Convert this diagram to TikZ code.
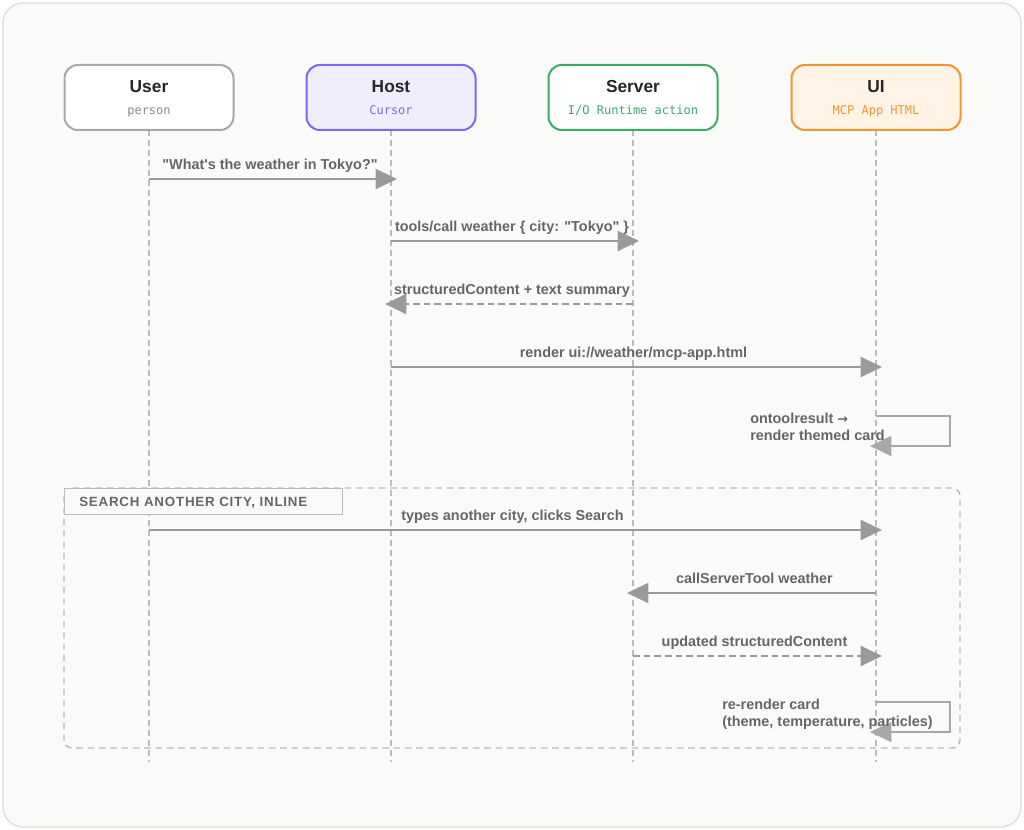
\documentclass[tikz,border=0pt]{standalone}
\usepackage{fontspec}
\setmainfont{Liberation Sans}[Ligatures=TeXReset]
\setmonofont{DejaVu Sans Mono}
\newfontfamily\arrowfont{DejaVu Sans}
\usetikzlibrary{arrows.meta}
\definecolor{bgpanel}{HTML}{FAFAF8}
\definecolor{panelline}{HTML}{DDDDDA}
\definecolor{lifegray}{HTML}{BBBBBB}
\definecolor{arrowgray}{HTML}{9A9A9A}
\definecolor{labelgray}{HTML}{666666}
\definecolor{titlegray}{HTML}{262626}
\definecolor{userline}{HTML}{A8A8A8}
\definecolor{usersub}{HTML}{8A8A8A}
\definecolor{hostline}{HTML}{7B68EE}
\definecolor{hostfill}{HTML}{F0EEFD}
\definecolor{serverline}{HTML}{3DAA66}
\definecolor{uiline}{HTML}{F0962E}
\definecolor{uifill}{HTML}{FFF3E5}
\begin{document}
\begin{tikzpicture}[x=0.75pt,y=-0.75pt,
  headbox/.style={draw, line width=1.5pt, rounded corners=10pt, minimum width=126.75pt, minimum height=48.75pt, inner sep=0pt},
  headtitle/.style={font=\fontsize{13}{15}\selectfont\bfseries, text=titlegray, anchor=base, inner sep=0pt},
  headsub/.style={font=\ttfamily\fontsize{9}{11}\selectfont, anchor=base, inner sep=0pt},
  lifeline/.style={draw=lifegray, line width=0.9pt, dash pattern=on 4.5pt off 3pt},
  msg/.style={draw=arrowgray, line width=1.5pt, -{Triangle[length=16pt,width=15pt]}, shorten >=-4.5pt},
  retmsg/.style={msg, dash pattern=on 5pt off 3pt},
  selfmsg/.style={draw=userline, line width=1.3pt, -{Triangle[length=16pt,width=15pt]}, shorten >=-4.5pt},
  lbl/.style={font=\fontsize{10.8}{13}\selectfont\bfseries, text=labelgray, anchor=base, inner sep=0pt, yshift=7pt},
  selflbl/.style={font=\fontsize{10.8}{12.75}\selectfont\bfseries, text=labelgray, anchor=base west, inner sep=0pt, align=left}
]
\useasboundingbox (0,0) rectangle (1024,830);
\fill[white] (0,0) rectangle (1024,830);
\draw[panelline, fill=bgpanel, line width=1pt, rounded corners=15pt] (3,3) rectangle (1021,827);

% group frame
\draw[lifegray, line width=1.1pt, dash pattern=on 5pt off 3.5pt, rounded corners=6pt] (64,488) rectangle (960,748);

% lifelines
\foreach \n/\x in {user/149,host/391,server/633,ui/876}{
  \coordinate (\n top) at (\x,130);
  \coordinate (\n bot) at (\x,762);
  \draw[lifeline] (\n top) -- (\n bot);
}

% group label
\node[draw=lifegray, line width=1.1pt, fill=bgpanel, minimum width=208.5pt, minimum height=19.5pt, anchor=north west, inner sep=0pt] (grp) at (64,488) {};
\node[font=\fontsize{10}{12}\selectfont\bfseries\addfontfeatures{LetterSpace=6}, text=labelgray, anchor=base west, inner sep=0pt] (grptxt) at (79,506) {SEARCH ANOTHER CITY, INLINE};

% headers
\node[headbox, draw=userline, fill=white] (userbox) at (149,97.5) {};
\node[headbox, draw=hostline, fill=hostfill] (hostbox) at (391,97.5) {};
\node[headbox, draw=serverline, fill=white] (serverbox) at (633,97.5) {};
\node[headbox, draw=uiline, fill=uifill] (uibox) at (876,97.5) {};
\node[headtitle] (usert) at (149,93) {User};
\node[headtitle] (hostt) at (391,93) {Host};
\node[headtitle] (servert) at (633,93) {Server};
\node[headtitle] (uit) at (876,93) {UI};
\node[headsub, text=usersub] (users) at (149,114.5) {person};
\node[headsub, text=hostline] (hosts) at (391,114.5) {Cursor};
\node[headsub, text=serverline] (servers) at (633,114.5) {I/O Runtime action};
\node[headsub, text=uiline] (uis) at (876,114.5) {MCP App HTML};

% message anchor points
\coordinate (u1) at (149,179); \coordinate (h1) at (391,179);
\coordinate (h2) at (391,241); \coordinate (s2) at (633,241);
\coordinate (s3) at (633,304); \coordinate (h3) at (391,304);
\coordinate (h4) at (391,367); \coordinate (ui4) at (876,367);
\coordinate (ui5a) at (876,416); \coordinate (ui5b) at (876,446);
\coordinate (u6) at (149,530); \coordinate (ui6) at (876,530);
\coordinate (ui7) at (876,593); \coordinate (s7) at (633,593);
\coordinate (s8) at (633,656); \coordinate (ui8) at (876,656);
\coordinate (ui9a) at (876,702); \coordinate (ui9b) at (876,732);

\draw[msg] (u1) -- (h1) node[lbl, midway] {"What's the weather in Tokyo?"};
\draw[msg] (h2) -- (s2) node[lbl, midway] {tools/call weather \{ city: "Tokyo" \}};
\draw[retmsg] (s3) -- (h3) node[lbl, midway] {structuredContent + text summary};
\draw[msg] (h4) -- (ui4) node[lbl, midway] {render ui://weather/mcp-app.html};
\draw[selfmsg] (ui5a) -- ++(74,0) |- (ui5b);
\node[selflbl] (l5) at (750,440) {ontoolresult {\arrowfont\fontsize{9.5}{12}\selectfont →}\\render themed card};

\draw[msg] (u6) -- (ui6) node[lbl, midway] {types another city, clicks Search};
\draw[msg] (ui7) -- (s7) node[lbl, midway] {callServerTool weather};
\draw[retmsg] (s8) -- (ui8) node[lbl, midway] {updated structuredContent};
\draw[selfmsg] (ui9a) -- ++(74,0) |- (ui9b);
\node[selflbl] (l9) at (722,726) {re-render card\\(theme, temperature, particles)};
\end{tikzpicture}
\end{document}
